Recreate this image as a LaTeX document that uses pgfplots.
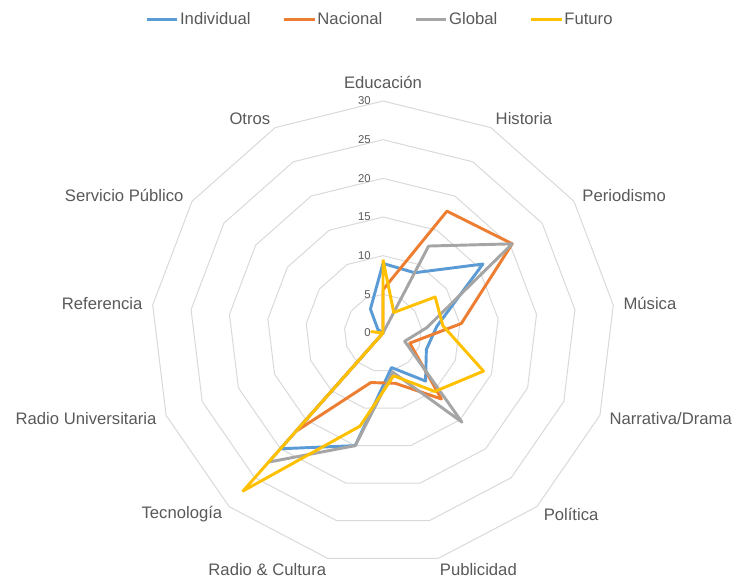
\documentclass[border=0pt]{standalone}
\usepackage{pgfplots}
\pgfplotsset{compat=1.18}
\usepgfplotslibrary{polar}
\usepackage{pgfplotstable}
\usepackage{fontspec}
\setmainfont{Liberation Sans}
\definecolor{cInd}{HTML}{5B9BD5}
\definecolor{cNac}{HTML}{ED7D31}
\definecolor{cGlo}{HTML}{A5A5A5}
\definecolor{cFut}{HTML}{FFC000}
\definecolor{cGrid}{HTML}{D9D9D9}
\definecolor{cText}{HTML}{595959}

% angle (deg, counter-clockwise from east), values per category
\pgfplotstableread{
angle    ind   nac   glo   fut
90       9.0   5.6   0     9.5
62.3077  8.8   17.8  12.7  3.0
34.6154  15.7  20.3  20.3  8.2
6.9231   7.0   10.2  5.7   7.8
339.2308 6.0   3.7   3.0   13.9
311.5385 8.3   11.4  15.4  10.1
283.8462 4.6   6.7   5.2   5.7
256.1538 15.0  6.6   15.0  12.4
228.4615 20.0  17.0  22.3  27.3
200.7692 0     0     0     0
173.0769 0     0     0     1.5
145.3846 0.8   0     0     0
117.6923 3.5   0     0     0
90       9.0   5.6   0     9.5
}\datatable

\pgfplotstableread{
angle    r5 r10 r15 r20 r25 r30
90       5  10  15  20  25  30
62.3077  5  10  15  20  25  30
34.6154  5  10  15  20  25  30
6.9231   5  10  15  20  25  30
339.2308 5  10  15  20  25  30
311.5385 5  10  15  20  25  30
283.8462 5  10  15  20  25  30
256.1538 5  10  15  20  25  30
228.4615 5  10  15  20  25  30
200.7692 5  10  15  20  25  30
173.0769 5  10  15  20  25  30
145.3846 5  10  15  20  25  30
117.6923 5  10  15  20  25  30
90       5  10  15  20  25  30
}\gridtable

\begin{document}
\begin{tikzpicture}[font=\fontsize{12.5}{15}\selectfont]
\path[use as bounding box] (-287.25pt,-184.5pt) rectangle (265.5pt,249.75pt);
\begin{polaraxis}[
  at={(0pt,0pt)}, anchor=origin,
  width=348pt, height=348pt, scale only axis,
  ymin=0, ymax=30, xmin=0, xmax=360,
  hide axis, clip=false,
  legend columns=4,
  legend style={at={(0.4925,1.175)}, anchor=center, draw=none, fill=none,
    font=\fontsize{12.5}{15}\selectfont, text=cText,
    /tikz/every even column/.append style={column sep=23pt},
    nodes={inner sep=1pt}},
  legend image code/.code={\draw[#1] (0pt,0pt) -- (23pt,0pt);},
]
\addplot[cGrid, line width=0.75pt, forget plot] table[x=angle,y=r5]{\gridtable};
\addplot[cGrid, line width=0.75pt, forget plot] table[x=angle,y=r10]{\gridtable};
\addplot[cGrid, line width=0.75pt, forget plot] table[x=angle,y=r15]{\gridtable};
\addplot[cGrid, line width=0.75pt, forget plot] table[x=angle,y=r20]{\gridtable};
\addplot[cGrid, line width=0.75pt, forget plot] table[x=angle,y=r25]{\gridtable};
\addplot[cGrid, line width=0.75pt, forget plot] table[x=angle,y=r30]{\gridtable};

\addplot[cInd, line width=2.2pt, line join=round] table[x=angle,y=ind]{\datatable};
\addlegendentry{Individual}
\addplot[cNac, line width=2.2pt, line join=round] table[x=angle,y=nac]{\datatable};
\addlegendentry{Nacional}
\addplot[cGlo, line width=2.2pt, line join=round] table[x=angle,y=glo]{\datatable};
\addlegendentry{Global}
\addplot[cFut, line width=2.2pt, line join=round] table[x=angle,y=fut]{\datatable};
\addlegendentry{Futuro}

% radial scale labels
\foreach \v in {0,5,...,30}{
  \edef\tmp{\noexpand\node[anchor=east, inner sep=0pt, text=cText, font=\noexpand\fontsize{8.5}{10}\noexpand\selectfont, xshift=-9pt] at (axis cs:90,\v) {\v};}
  \tmp
}

% category labels
\begin{scope}[every node/.style={inner sep=0pt, text=cText}]
\node[anchor=south] at (axis cs:90,31.6) {Educación};
\node[anchor=west] at (axis cs:62.3077,31.3) {Historia};
\node[anchor=west] at (axis cs:34.6154,31.3) {Periodismo};
\node[anchor=west] at (axis cs:6.9231,31.3) {Música};
\node[anchor=west] at (axis cs:339.2308,31.3) {Narrativa/Drama};
\node[anchor=west] at (axis cs:311.5385,31.3) {Política};
\node[anchor=north west] at (axis cs:283.8462,30.6) {Publicidad};
\node[anchor=north east] at (axis cs:256.1538,30.6) {Radio \& Cultura};
\node[anchor=east] at (axis cs:228.4615,31.3) {Tecnología};
\node[anchor=east] at (axis cs:200.7692,31.3) {Radio Universitaria};
\node[anchor=east] at (axis cs:173.0769,31.3) {Referencia};
\node[anchor=east] at (axis cs:145.3846,31.3) {Servicio Público};
\node[anchor=east] at (axis cs:117.6923,31.3) {Otros};
\end{scope}
\end{polaraxis}
\end{tikzpicture}
\end{document}
